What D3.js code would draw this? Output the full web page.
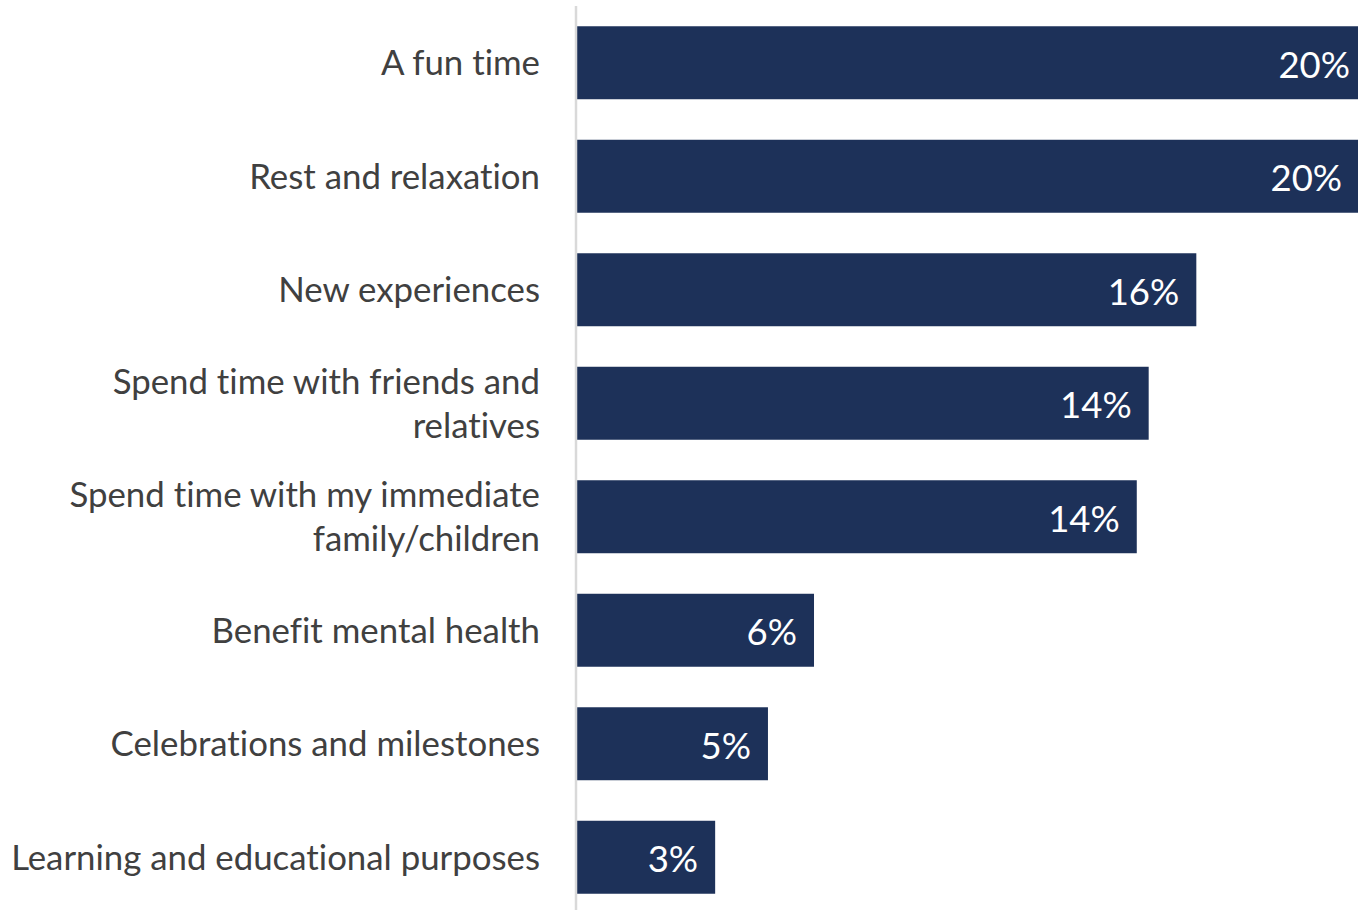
<!DOCTYPE html>
<html>
<head>
<meta charset="utf-8">
<script src="https://cdn.jsdelivr.net/npm/d3@7"></script>
<style>
  html, body { margin: 0; padding: 0; background: #ffffff; overflow: hidden; }
  svg { display: block; }
  text { font-variant-ligatures: none; }
</style>
</head>
<body>
<svg id="chart" width="1358" height="910"></svg>
<script>
// Reasons given, share of respondents (%)
const categories = [
  ["A fun time"],
  ["Rest and relaxation"],
  ["New experiences"],
  ["Spend time with friends and", "relatives"],
  ["Spend time with my immediate", "family/children"],
  ["Benefit mental health"],
  ["Celebrations and milestones"],
  ["Learning and educational purposes"]
];
const values = [19.9, 19.7, 15.6, 14.4, 14.1, 5.97, 4.81, 3.48];

const W = 1358, H = 910;
const x0 = 577;
const svg = d3.select("#chart");

const x = d3.scaleLinear().domain([0, 10]).range([x0, x0 + 397]);
const y = d3.scaleBand()
  .domain(d3.range(categories.length))
  .range([6, 914])
  .paddingInner(0.357)
  .paddingOuter(0.357 / 2);

const fmt = v => d3.format(".0f")(v) + "%";
const font = "Lato, 'Open Sans', sans-serif";

// bars
svg.append("g").selectAll("rect")
  .data(values)
  .join("rect")
  .attr("x", x(0))
  .attr("y", (d, i) => y(i))
  .attr("width", d => x(d) - x(0))
  .attr("height", y.bandwidth())
  .attr("fill", "#1d3159");

// category axis line
svg.append("line")
  .attr("x1", x0 - 1).attr("x2", x0 - 1)
  .attr("y1", 6).attr("y2", H)
  .attr("stroke", "#d9d9d9")
  .attr("stroke-width", 2.5);

// category labels
const lineGap = 44;
const lab = svg.append("g")
  .attr("font-family", font)
  .attr("font-size", 34.8)
  .attr("fill", "#404040")
  .attr("text-anchor", "end");
categories.forEach((lines, i) => {
  const cy = y(i) + y.bandwidth() / 2;
  const t = lab.append("text").attr("x", 540);
  lines.forEach((ln, j) => {
    t.append("tspan")
      .attr("x", 540)
      .attr("y", cy + (j - (lines.length - 1) / 2) * lineGap)
      .attr("dy", "0.36em")
      .text(ln);
  });
});

// value labels inside bar ends
svg.append("g").selectAll("text")
  .data(values)
  .join("text")
  .attr("x", d => x(d) - 17)
  .attr("y", (d, i) => y(i) + y.bandwidth() / 2 + 2)
  .attr("dy", "0.36em")
  .attr("text-anchor", "end")
  .attr("font-family", font)
  .attr("font-size", 36.5)
  .attr("fill", "#ffffff")
  .text(fmt);
</script>
</body>
</html>
